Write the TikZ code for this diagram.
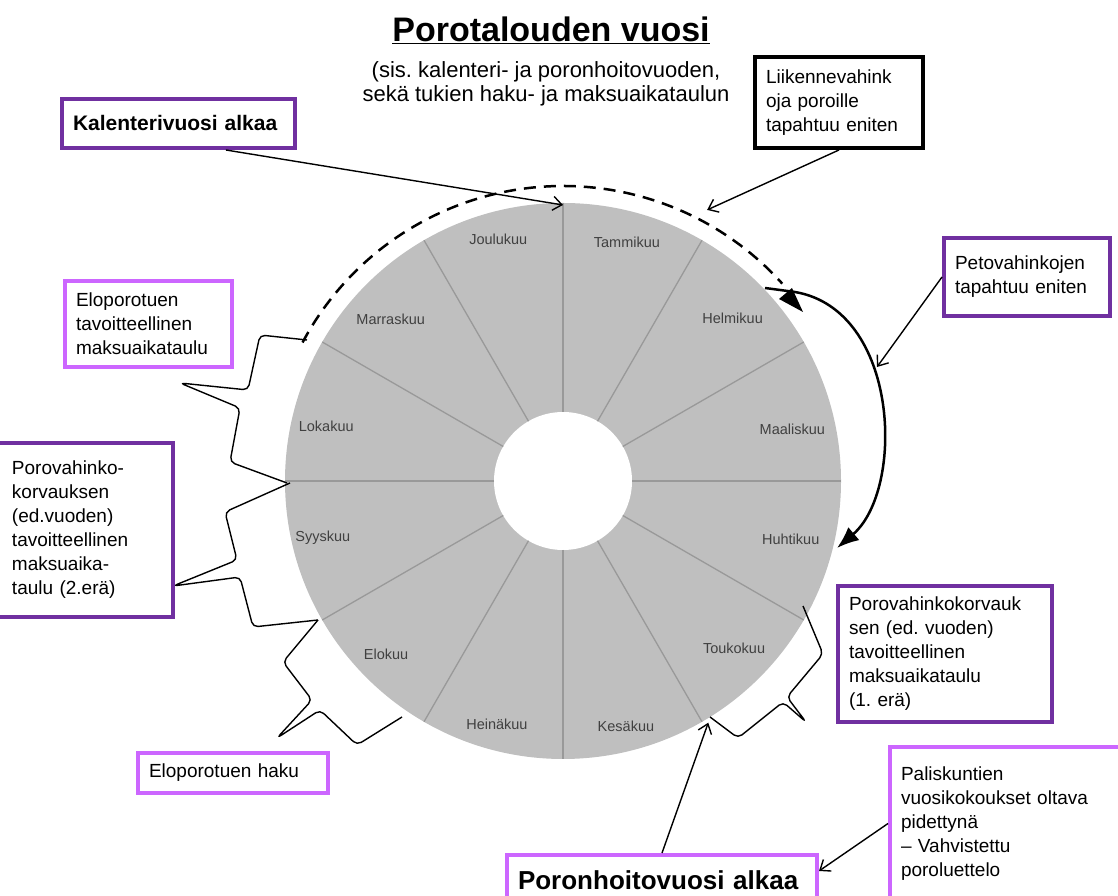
\documentclass[tikz,border=0pt]{standalone}
\usepackage{fontspec}
\setmainfont{Liberation Sans}
\usepackage{xcolor}
\usetikzlibrary{calc}
\usetikzlibrary{arrows.meta}
\definecolor{violetti}{HTML}{7030A0}
\definecolor{roosa}{HTML}{CC66FF}
\hyphenpenalty=10000
\frenchspacing
\def\boxfont{\fontsize{19}{24}\selectfont}
\tikzset{
	laatikko/.style={draw,line width=4pt,fill=white,align=left,inner xsep=11pt,inner ysep=0pt,font=\boxfont},
	kk/.style={font=\fontsize{14.5}{16}\selectfont,text=black!75},
	puola/.style={gray!80,line width=1.3pt},
	sulku/.style={line width=1.4pt,rounded corners=5pt},
	nuoli/.style={line width=1.4pt,-{Straight Barb[length=9pt,width=14pt]}}
}

\begin{document}
\begin{tikzpicture}[x=1pt,y=1pt]
	\useasboundingbox (0,0) rectangle (1118,896);
	\begin{scope}[shift={(563,415)}]
		\fill[gray!50] (0,0) circle (278);
		\fill[white] (0,0) circle (69);
		\foreach \a in {0,30,...,330}
			\draw[puola] (\a:69)--(\a:278);
		\foreach \a/\r/\m in {75/247/Tammikuu,43.8/235/Helmikuu,12.6/235/Maaliskuu,-14.3/235/Huhtikuu,
				-44.3/239/Toukokuu,-75.6/253/Kesäkuu,254.8/252/Heinäkuu,224.5/248/Elokuu,
				193.4/247/Syyskuu,167/243/Lokakuu,136.9/236/Marraskuu,105/250/Joulukuu}
			\node[kk] (kk\a) at (\a:\r) {\m};
		\draw[line width=2.5pt,dash pattern=on 12pt off 8pt] (152:295) arc[start angle=152,end angle=42,radius=295];
		\coordinate (tammi) at (90:276);
		\coordinate (liikp) at (62:307);
		\coordinate (porop) at (-59:282);
	\end{scope}
	\draw[sulku] (307,556)--(260,561)--(248,506)--(180,513)--(240,488)--(230,434)--(287,413);
	\draw[sulku] (290,413)--(225,384)--(237,336)--(173,310)--(240,319)--(253,269)--(318,276);
	\draw[sulku] (318,276)--(283,234)--(312,196)--(277,158)--(320,186)--(357,151)--(402,179);
	\draw[sulku] (803,290)--(823,242)--(787,199)--(806,174)--(783,194)--(738,158)--(710,179);
	\draw[line width=2.5pt,-{Latex[length=22pt,width=17pt]}] (765,608)--(795,604)
		.. controls (900,586) and (905,406) .. (837,348);
	\fill (779,597)--(792,608)--(803,584)--cycle;
	\coordinate (petop) at (877,529);

	\node[font=\fontsize{34}{40}\selectfont\bfseries] (otsikko) at (551,866) {\underline{Porotalouden vuosi}};
	\node[font=\fontsize{22}{24}\selectfont,align=center] (ala) at (546,812) {(sis. kalenteri- ja poronhoitovuoden,\\sekä tukien haku- ja maksuaikataulun};
	\node[laatikko,draw=violetti,text width=211pt,minimum height=49pt,font=\fontsize{21}{24}\selectfont\bfseries] (kal) at (178.5,772.5) {Kalenterivuosi alkaa};
	\node[laatikko,draw=black,text width=146pt,minimum height=91pt] (liik) at (839,793.5) {Liikennevahink\\oja poroille\\tapahtuu eniten};
	\node[laatikko,draw=violetti,text width=144pt,minimum height=78pt] (peto) at (1027,619) {Petovahinkojen\\tapahtuu eniten};
	\node[laatikko,draw=roosa,text width=145pt,minimum height=86pt] (elotav) at (148.5,572) {Eloporotuen\\tavoitteellinen\\maksuaikataulu};
	\node[laatikko,draw=violetti,inner xsep=16pt,text width=145pt,minimum height=174pt] (korv2) at (84.5,366) {Porovahinko-\\korvauksen\\(ed.vuoden)\\tavoitteellinen\\maksuaika-\\taulu (2.erä)};
	\node[laatikko,draw=roosa,text width=168pt,minimum height=40pt] (elohaku) at (233,123) {Eloporotuen haku};
	\node[laatikko,draw=violetti,text width=192pt,minimum height=136pt] (korv1) at (945,242) {Porovahinkokorvauk\\sen (ed. vuoden)\\tavoitteellinen\\maksuaikataulu\\(1. erä)};
	\node[laatikko,draw=roosa,text width=213pt,minimum height=153pt] (palis) at (1007.5,72.5) {Paliskuntien\\vuosikokoukset oltava\\pidettynä\\– Vahvistettu\\poroluettelo};
	\node[laatikko,draw=roosa,text width=288pt,minimum height=50pt,font=\fontsize{26}{30}\selectfont\bfseries] (poro) at (662,16) {Poronhoitovuosi alkaa};

	\draw[nuoli] ($(kal.south)!0.4!(kal.south east)$)--(tammi);
	\draw[nuoli] (liik.south)--(liikp);
	\draw[nuoli] (peto.west)--(petop);
	\draw[nuoli] (poro.north)--(porop);
	\draw[nuoli] (palis.west)--([yshift=9pt]poro.east);
\end{tikzpicture}
\end{document}
